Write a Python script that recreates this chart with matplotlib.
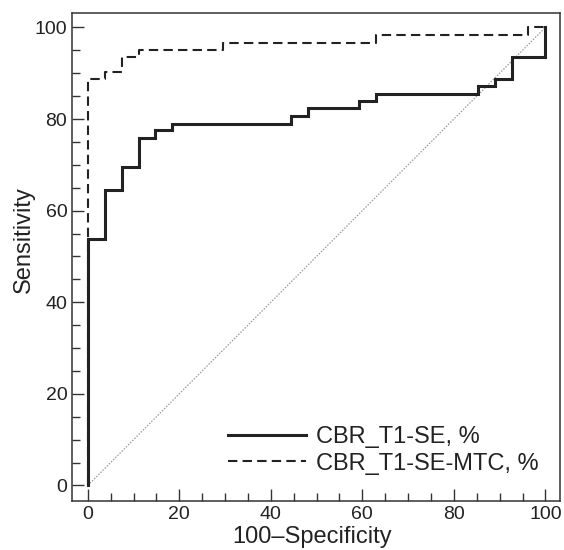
import matplotlib
matplotlib.use("Agg")
import matplotlib.pyplot as plt
from matplotlib.ticker import MultipleLocator

# ROC curve for CBR_T1-SE, % (100-Specificity, Sensitivity)
se_x = [0, 0, 3.7, 3.7, 7.4, 7.4, 11.1, 11.1, 14.8, 14.8, 18.5, 18.5,
        44.4, 44.4, 48.1, 48.1, 59.3, 59.3, 63.0, 63.0, 85.2, 85.2,
        88.9, 88.9, 92.6, 92.6, 100, 100]
se_y = [0, 53.7, 53.7, 64.6, 64.6, 69.6, 69.6, 75.9, 75.9, 77.5, 77.5, 79.0,
        79.0, 80.7, 80.7, 82.3, 82.3, 83.9, 83.9, 85.5, 85.5, 87.1,
        87.1, 88.7, 88.7, 93.5, 93.5, 100]

# ROC curve for CBR_T1-SE-MTC, %
mtc_x = [0, 0, 3.7, 3.7, 7.4, 7.4, 11.1, 11.1, 29.6, 29.6, 63.0, 63.0,
         96.3, 96.3, 100]
mtc_y = [0, 88.7, 88.7, 90.3, 90.3, 93.5, 93.5, 95.0, 95.0, 96.7, 96.7, 98.3,
         98.3, 100, 100]

diag = [0, 100]
ticks = [0, 20, 40, 60, 80, 100]
labels = ["CBR_T1-SE, %", "CBR_T1-SE-MTC, %"]

plt.rcParams['font.family'] = ['Liberation Sans', 'DejaVu Sans']
fig = plt.figure(figsize=(5.64, 5.50), dpi=100)
ax = fig.add_axes([0.128, 0.089, 0.865, 0.887])

ink = '#222222'
ax.plot(diag, diag, color='#999999', lw=0.9, ls=(0, (1.2, 1.2)), zorder=1)
ax.plot(se_x, se_y, color=ink, lw=2.2, solid_joinstyle='miter', label=labels[0], zorder=3)
ax.plot(mtc_x, mtc_y, color=ink, lw=1.5, ls=(0, (4.5, 2.5)), label=labels[1], zorder=2)

ax.set_xlim(-3.4, 103.2)
ax.set_ylim(-3.4, 103.1)
ax.set_xticks(ticks)
ax.set_yticks(ticks)
ax.xaxis.set_minor_locator(MultipleLocator(5))
ax.yaxis.set_minor_locator(MultipleLocator(5))
ax.tick_params(which='major', direction='in', length=8.6, width=1.0, color='#333333',
               labelsize=14, labelcolor=ink, pad=3.5)
ax.tick_params(which='minor', direction='in', length=5.6, width=1.0, color='#333333')
for s in ax.spines.values():
    s.set_color('#333333')
    s.set_linewidth(1.1)

ax.set_xlabel('100\u2013Specificity', fontsize=17, color=ink, labelpad=2)
ax.set_ylabel('Sensitivity', fontsize=17, color=ink, labelpad=0)
ax.xaxis.label.set_x(0.492)
ax.yaxis.label.set_y(0.535)

leg = ax.legend(loc='lower right', bbox_to_anchor=(0.985, 0.025), frameon=False,
                fontsize=17, handlelength=3.3, handletextpad=0.42, labelspacing=0.2,
                borderaxespad=0.2)
for t in leg.get_texts():
    t.set_color(ink)

fig.savefig('out.png', dpi=100)
